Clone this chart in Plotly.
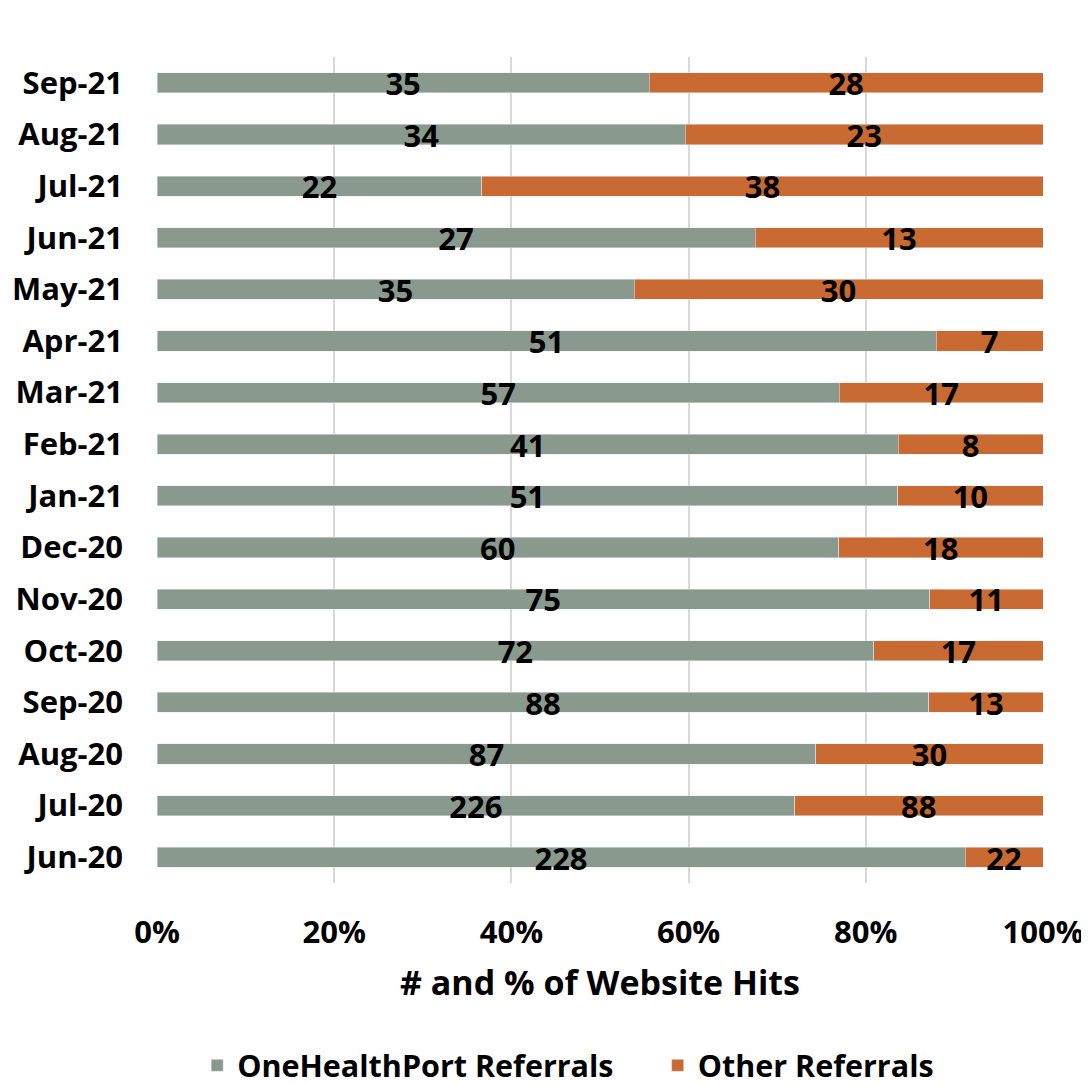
import plotly.graph_objects as go

months = ["Jun-20", "Jul-20", "Aug-20", "Sep-20", "Oct-20", "Nov-20", "Dec-20",
          "Jan-21", "Feb-21", "Mar-21", "Apr-21", "May-21", "Jun-21", "Jul-21",
          "Aug-21", "Sep-21"]
ohp = [228, 226, 87, 88, 72, 75, 60, 51, 41, 57, 51, 35, 27, 22, 34, 35]
other = [22, 88, 30, 13, 17, 11, 18, 10, 8, 17, 7, 30, 13, 38, 23, 28]
x_ticks = [0, 20, 40, 60, 80, 100]

GREEN = "#8A998E"
ORANGE = "#C86A32"
FONT = "Open Sans"

fig = go.Figure()
fig.add_trace(go.Bar(y=months, x=ohp, orientation="h", name="OneHealthPort Referrals",
                     marker=dict(color=GREEN), hoverinfo="skip", legend="legend"))
fig.add_trace(go.Bar(y=months, x=other, orientation="h", name="Other Referrals",
                     marker=dict(color=ORANGE), hoverinfo="skip", legend="legend2"))

# label positions: segment midpoints in percent
tot = [a + b for a, b in zip(ohp, other)]
mid_g = [a / t * 50 for a, t in zip(ohp, tot)]
mid_o = [(a / t * 100 + 100) / 2 for a, t in zip(ohp, tot)]
fig.add_trace(go.Scatter(x=mid_g + mid_o, y=months + months, mode="text", yaxis="y2",
                         text=[str(v) for v in ohp + other], textposition="middle center",
                         textfont=dict(family=FONT, size=31, color="black", weight="bold"),
                         showlegend=False, hoverinfo="skip", cliponaxis=False))

n = len(months)
leg_font = dict(family=FONT, size=30.5, color="black", weight="bold")
fig.update_layout(
    barmode="stack", barnorm="percent", bargap=0.61,
    width=1081, height=1076,
    margin=dict(l=149, r=46, t=49, b=201, autoexpand=False),
    plot_bgcolor="white", paper_bgcolor="white",
    font=dict(family=FONT, size=31, color="black", weight="bold"),
    showlegend=True,
    legend=dict(orientation="h", xref="container", x=0.175, xanchor="left",
                y=-0.221, yanchor="middle", font=leg_font),
    legend2=dict(orientation="h", xref="container", x=0.601, xanchor="left",
                 y=-0.221, yanchor="middle", font=leg_font),
    xaxis=dict(range=[0, 100], tickvals=x_ticks, ticktext=[f"{v}%" for v in x_ticks],
               showgrid=True, gridcolor="#D9D9D9", gridwidth=2,
               zeroline=False, showline=False, ticks="", ticklabelstandoff=28,
               tickfont=dict(family=FONT, size=31, weight="bold"),
               title=dict(text="# and % of Website Hits", standoff=20,
                          font=dict(family=FONT, size=34, weight="bold"))),
    yaxis=dict(categoryorder="array", categoryarray=months, showgrid=False,
               range=[-0.5, n - 0.5], autorange=False,
               showline=False, ticks="", ticklabelstandoff=33,
               tickfont=dict(family=FONT, size=31, weight="bold")),
    yaxis2=dict(overlaying="y", categoryorder="array", categoryarray=months,
                range=[-0.41, n - 0.41], autorange=False, visible=False),
)
fig.write_html("out.html")
